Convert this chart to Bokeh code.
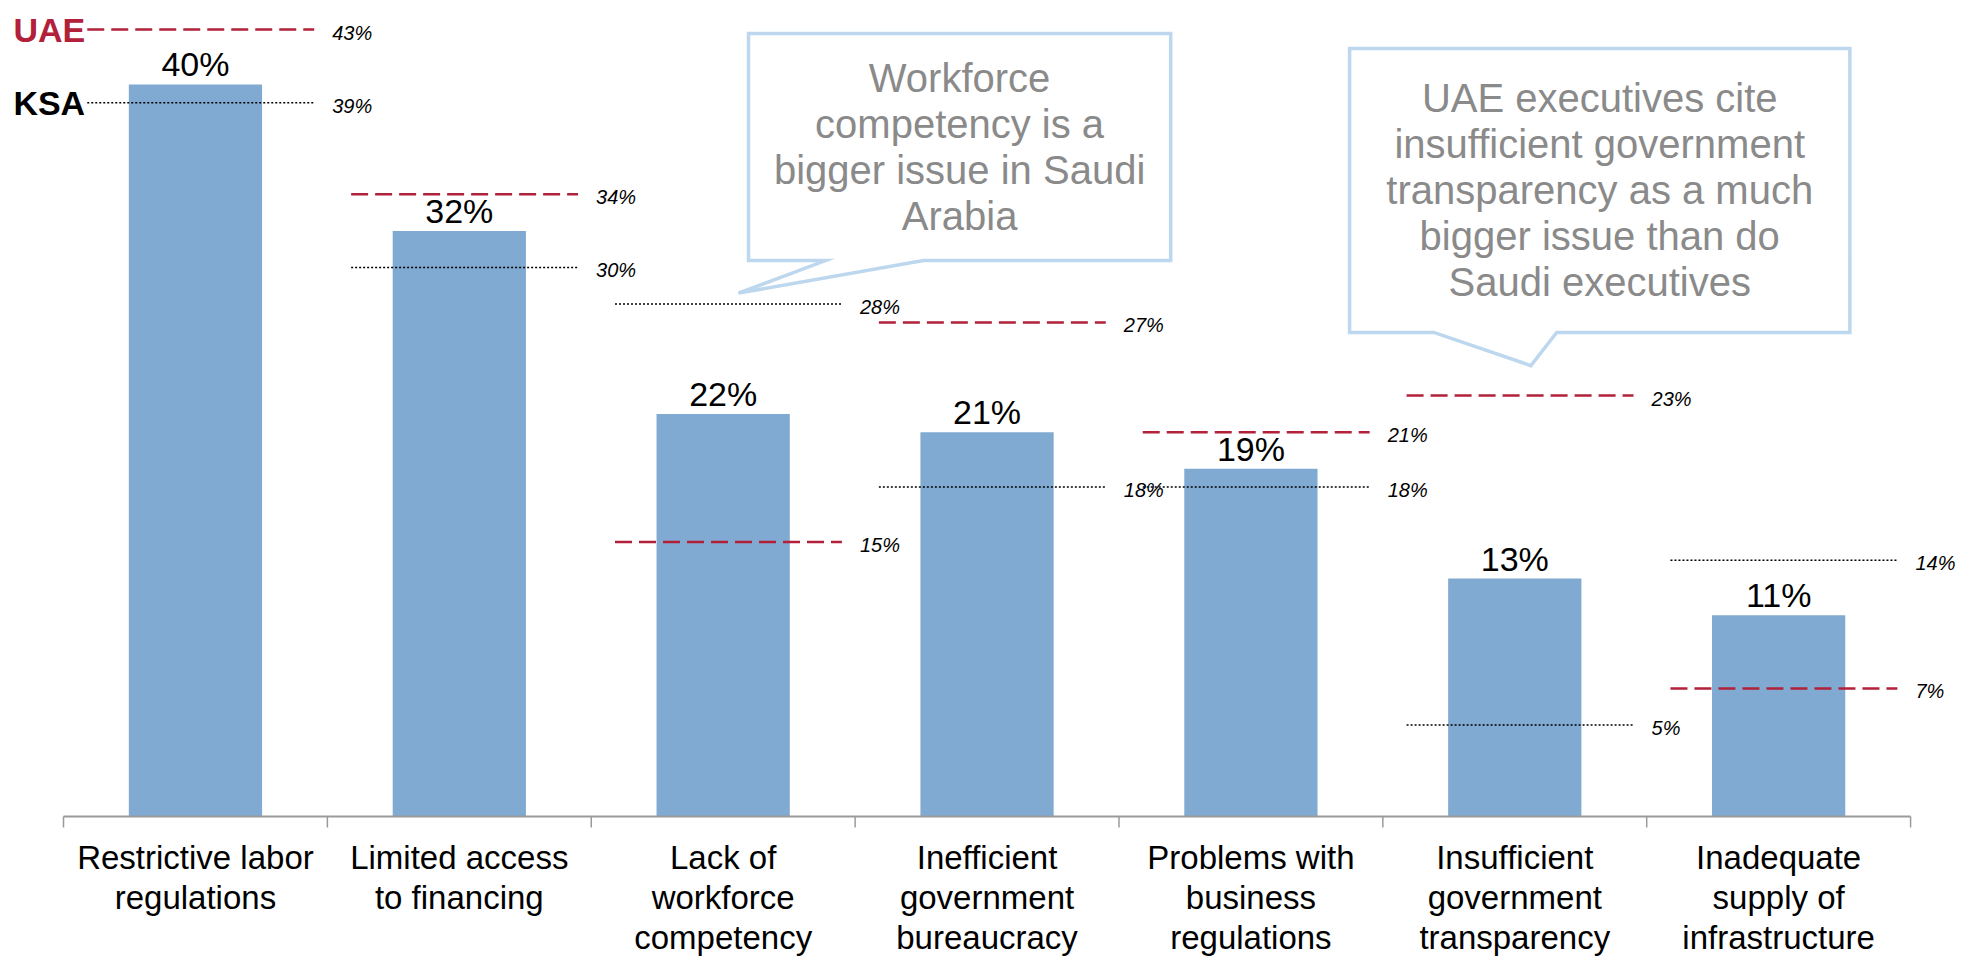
from bokeh.plotting import figure
from bokeh.models import ColumnDataSource, Range1d
from bokeh.core.properties import value
from bokeh.embed import file_html
from bokeh.resources import INLINE

# ---------------- data ----------------
categories = [
    "Restrictive labor\nregulations",
    "Limited access\nto financing",
    "Lack of\nworkforce\ncompetency",
    "Inefficient\ngovernment\nbureaucracy",
    "Problems with\nbusiness\nregulations",
    "Insufficient\ngovernment\ntransparency",
    "Inadequate\nsupply of\ninfrastructure",
]
overall = [40, 32, 22, 21, 19, 13, 11]   # bars (%)
uae = [43, 34, 15, 27, 21, 23, 7]        # UAE reference (%)
ksa = [39, 30, 28, 18, 18, 5, 14]        # KSA reference (%)
country_names = ["UAE", "KSA"]

callout_texts = [
    "Workforce\ncompetency is a\nbigger issue in Saudi\nArabia",
    "UAE executives cite\ninsufficient government\ntransparency as a much\nbigger issue than do\nSaudi executives",
]
# callout boxes in data units: left, right, top, bottom, tail-left, tail-right, tip-x, tip-y
callout_boxes = [
    (2.596, 4.196, 42.79, 30.38, 2.888, 3.259, 2.558, 28.6),
    (4.874, 6.770, 41.97, 26.45, 5.193, 5.659, 5.561, 24.64),
]

# ---------------- style ----------------
FONT = "Liberation Sans"
BAR = "#80AAD2"
RED = "#B2203A"
BOX = "#BDD7EE"
GREY_TXT = "#8A8A8A"

W, H = 1961, 956
p = figure(width=W, height=H, output_backend="svg", toolbar_location=None,
           x_axis_type=None, y_axis_type=None,
           x_range=Range1d(-0.2388, 7.193), y_range=Range1d(-7.65, 44.59),
           min_border=0, outline_line_color=None)
p.background_fill_color = "white"
p.border_fill_color = "white"

n = len(overall)
idx = list(range(n))
centers = [i + 0.5 for i in idx]

# bars
p.vbar(x=centers, top=overall, bottom=0, width=0.505, fill_color=BAR, line_color=None)

# axis baseline and ticks (category boundaries)
p.segment(x0=[0], y0=[0], x1=[n], y1=[0], line_color="#9A9A9A", line_width=2)
p.segment(x0=list(range(n + 1)), y0=[0] * (n + 1), x1=list(range(n + 1)), y1=[-0.6] * (n + 1),
          line_color="#9A9A9A", line_width=1.5)

# reference lines
x0s = [i + 0.09 for i in idx]
x1s = [i + 0.95 for i in idx]
p.segment(x0=x0s, y0=ksa, x1=x1s, y1=ksa, line_color="black", line_width=1.5, line_dash="2 2")
p.segment(x0=x0s, y0=uae, x1=x1s, y1=uae, line_color=RED, line_width=2.5, line_dash="17 7")

# reference labels
ref_src = ColumnDataSource(dict(
    x=x1s + x1s, y=uae + ksa, t=[f"{v}%" for v in uae] + [f"{v}%" for v in ksa]))
p.text(x="x", y="y", text="t", source=ref_src, x_offset=18, y_offset=3,
       text_font=value(FONT), text_font_size="20px", text_font_style="italic",
       text_color="black", text_align="left", text_baseline="middle")

# bar value labels
val_src = ColumnDataSource(dict(x=centers, y=overall, t=[f"{v}%" for v in overall]))
p.text(x="x", y="y", text="t", source=val_src, y_offset=-20,
       text_font=value(FONT), text_font_size="34px", text_color="black",
       text_align="center", text_baseline="alphabetic")

# category labels
cat_src = ColumnDataSource(dict(x=centers, y=[-1.22] * n, t=categories))
p.text(x="x", y="y", text="t", source=cat_src,
       text_font=value(FONT), text_font_size="33px", text_color="black",
       text_align="center", text_baseline="top", text_line_height=1.085)

# country labels on the left, at the first category's reference values
p.text(x=[-0.19], y=[uae[0]], text=[country_names[0]], text_font=value(FONT),
       text_font_size="34px", text_font_style="bold", text_color=RED,
       text_align="left", text_baseline="middle")
p.text(x=[-0.19], y=[ksa[0]], text=[country_names[1]], text_font=value(FONT),
       text_font_size="34px", text_font_style="bold", text_color="black",
       text_align="left", text_baseline="middle")

# callouts
for txt, (l, r, t, b, tl, tr, tx, ty) in zip(callout_texts, callout_boxes):
    p.patch(x=[l, r, r, tr, tx, tl, l], y=[t, t, b, b, ty, b, b],
            fill_color="white", line_color=BOX, line_width=3.5, line_join="miter")
    p.text(x=[(l + r) / 2], y=[(t + b) / 2], text=[txt], text_font=value(FONT),
           text_font_size="40px", text_color=GREY_TXT, text_align="center",
           text_baseline="middle", text_line_height=1.045)

open("out.html", "w").write(file_html(p, INLINE))
